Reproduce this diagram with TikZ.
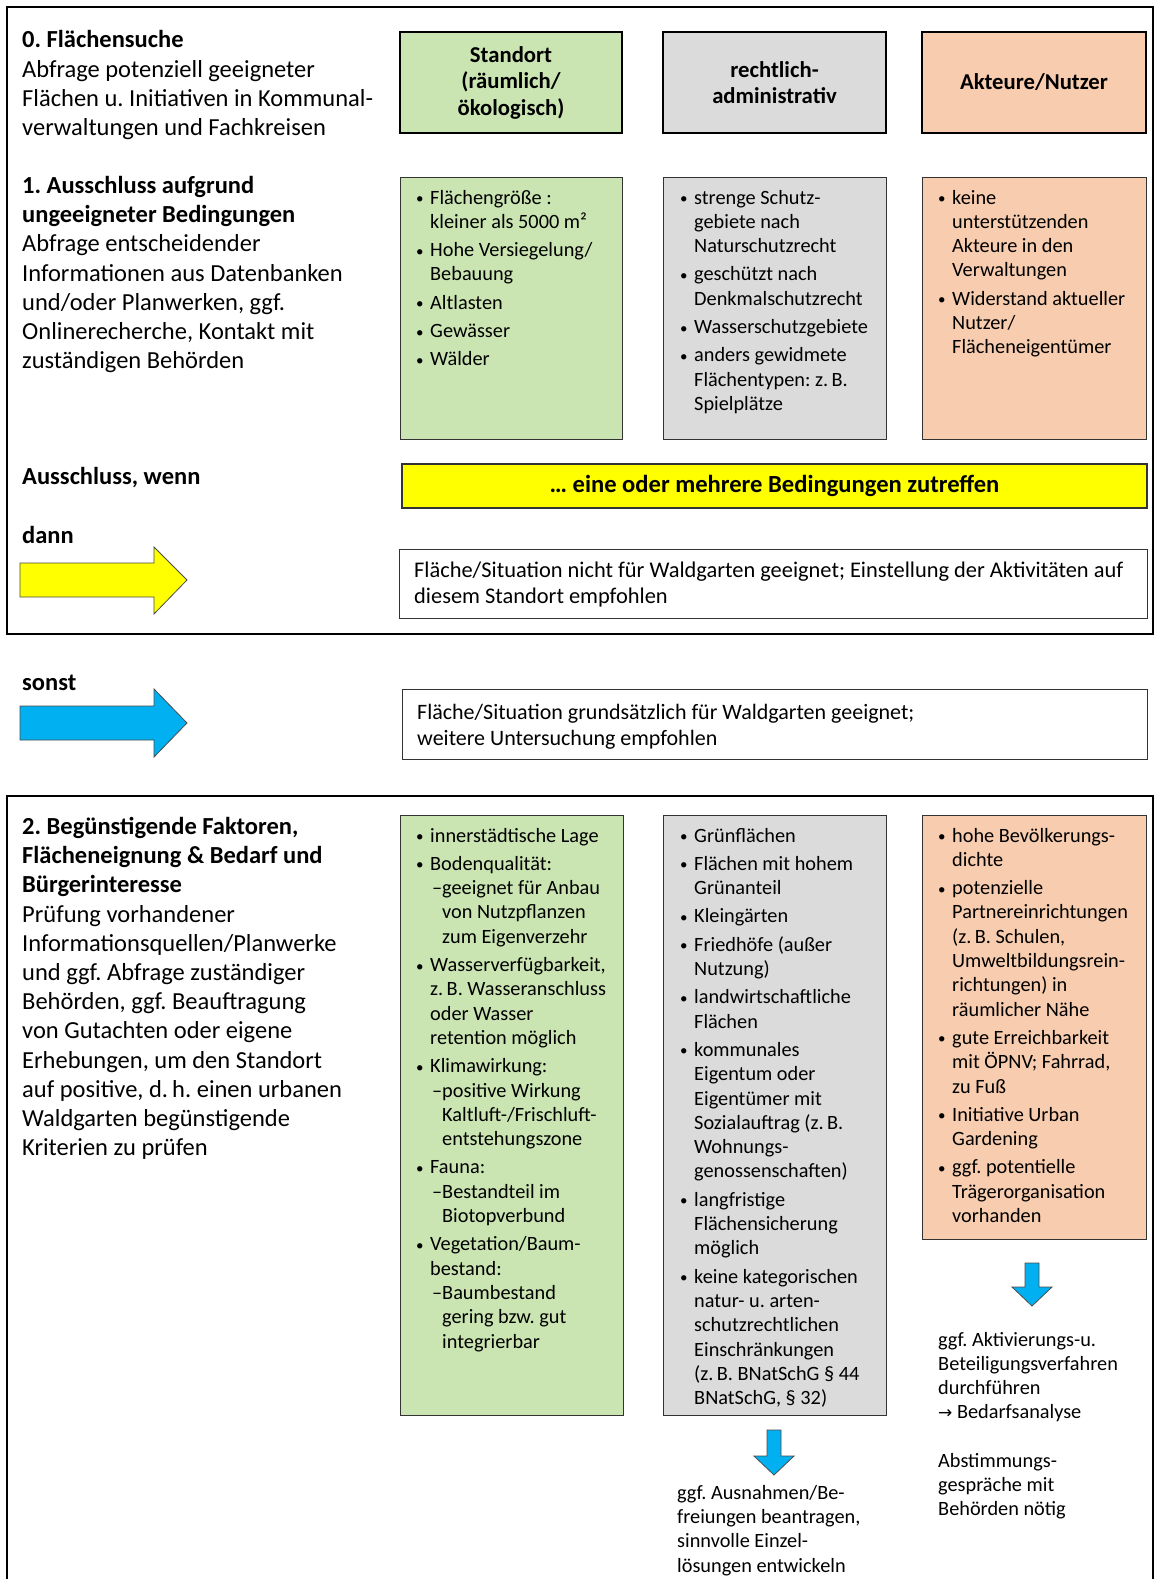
\documentclass[tikz,border=0pt]{standalone}
\usepackage{fontspec}
\setmainfont{Carlito}
\newfontfamily\dejavu{DejaVu Sans}
\frenchspacing
\definecolor{gfill}{RGB}{202,229,178}
\definecolor{grfill}{RGB}{219,219,219}
\definecolor{ofill}{RGB}{248,204,174}
\definecolor{yfill}{RGB}{255,255,0}
\definecolor{bfill}{RGB}{0,176,240}
\newcommand\bul{\makebox[14pt][l]{\raisebox{0.5pt}{\fontsize{15}{15}\selectfont •}}}
\newcommand\bfirst[1]{\noindent\hangindent=14pt\hangafter=1 \bul#1\par}
\newcommand\bnext[1]{\vspace{4pt}\bfirst{#1}}
\newcommand\bsub[1]{\noindent\hangindent=26pt\hangafter=1 \hspace*{16pt}\makebox[10pt][l]{–}#1\par}
\newcommand\boxtext{\fontsize{20.3}{24.3}\selectfont\parindent=0pt\frenchspacing}
\newcommand\lefttext{\fontsize{24.5}{29.2}\selectfont\raggedright\frenchspacing}
\begin{document}
\begin{tikzpicture}[x=1pt,y=-1pt,
  frame/.style={draw=black,line width=1.6pt},
  hdr/.style={draw=black,line width=1.5pt,anchor=center,align=center,inner sep=0pt,font=\bfseries\fontsize{22.7}{26.5}\selectfont},
  cbox/.style={draw=black!80,line width=1.3pt,anchor=north west,inner sep=0pt},
  txt/.style={anchor=base west,inner sep=0pt},
  lbl/.style={anchor=base west,inner sep=0pt,font=\bfseries\fontsize{24.5}{29.2}\selectfont},
  blockarrow/.style={draw=black!70,line width=0.8pt}]
\useasboundingbox (0,0) rectangle (1156,1579);
\fill[white] (0,0) rectangle (1156,1579);
% frames
\draw[frame] (7,7) rectangle (1153,634);
\draw[frame] (1153,1590) -- (1153,796) -- (7,796) -- (7,1590);

% left texts
\node[txt] (t0) at (22,48) {\begin{minipage}[t]{370pt}\lefttext
\textbf{0. Flächensuche}\\
Abfrage potenziell geeigneter\\
Flächen u. Initiativen in Kommunal-\\
verwaltungen und Fachkreisen\end{minipage}};
\node[txt] (t1) at (22,193.5) {\begin{minipage}[t]{370pt}\lefttext
\textbf{1. Ausschluss aufgrund}\\
\textbf{ungeeigneter Bedingungen}\\
Abfrage entscheidender\\
Informationen aus Datenbanken\\
und/oder Planwerken, ggf.\\
Onlinerecherche, Kontakt mit\\
zuständigen Behörden\end{minipage}};
\node[lbl] (tw) at (22,484.5) {Ausschluss, wenn};
\node[lbl] (td) at (22,543.5) {dann};
\node[lbl] (ts) at (22,690.5) {sonst};
\node[txt] (t2) at (22,834.5) {\begin{minipage}[t]{370pt}\lefttext
\textbf{2. Begünstigende Faktoren,}\\
\textbf{Flächeneignung \& Bedarf und}\\
\textbf{Bürgerinteresse}\\
Prüfung vorhandener\\
Informationsquellen/Planwerke\\
und ggf. Abfrage zuständiger\\
Behörden, ggf. Beauftragung\\
von Gutachten oder eigene\\
Erhebungen, um den Standort\\
auf positive, d.\,h. einen urbanen\\
Waldgarten begünstigende\\
Kriterien zu prüfen\end{minipage}};

% headers
\node[hdr,fill=gfill,minimum width=222pt,minimum height=101pt] (h1) at (511,82.5) {Standort\\(räumlich/\\ökologisch)};
\node[hdr,fill=grfill,minimum width=223pt,minimum height=101pt] (h2) at (774.5,82.5) {rechtlich-\\administrativ};
\node[hdr,fill=ofill,minimum width=224pt,minimum height=101pt] (h3) at (1034,82.5) {Akteure/Nutzer};

% row 1 boxes
\node[cbox,fill=gfill,minimum width=222pt,minimum height=262pt] (b1) at (400,177) {};
\node[cbox,fill=grfill,minimum width=223pt,minimum height=262pt] (b2) at (663,177) {};
\node[cbox,fill=ofill,minimum width=224pt,minimum height=262pt] (b3) at (922,177) {};
\node[txt] (b1t) at (416,204) {\begin{minipage}[t]{300pt}\boxtext
\bfirst{Flächengröße :\\kleiner als 5000 m²}
\bnext{Hohe Versiegelung/\\Bebauung}
\bnext{Altlasten}
\bnext{Gewässer}
\bnext{Wälder}\end{minipage}};
\node[txt] (b2t) at (680,204) {\begin{minipage}[t]{300pt}\boxtext
\bfirst{strenge Schutz-\\gebiete nach\\Naturschutzrecht}
\bnext{geschützt nach\\Denkmalschutzrecht}
\bnext{Wasserschutzgebiete}
\bnext{anders gewidmete\\Flächentypen: z.\,B.\\Spielplätze}\end{minipage}};
\node[txt] (b3t) at (938,204) {\begin{minipage}[t]{300pt}\boxtext
\bfirst{keine\\unterstützenden\\Akteure in den\\Verwaltungen}
\bnext{Widerstand aktueller\\Nutzer/\\Flächeneigentümer}\end{minipage}};

% yellow bar
\node[draw=black!80,line width=1.3pt,fill=yfill,minimum width=745pt,minimum height=44pt,inner sep=0pt,font=\bfseries\fontsize{24.6}{26}\selectfont] (yb) at (774.5,486) {… eine oder mehrere Bedingungen zutreffen};

% result boxes
\node[cbox,minimum width=748pt,minimum height=69pt] (d1) at (399,549) {};
\node[txt] (d1t) at (414,577.5) {\begin{minipage}[t]{740pt}\fontsize{22.4}{26}\selectfont\raggedright
Fläche/Situation nicht für Waldgarten geeignet; Einstellung der Aktivitäten auf\\
diesem Standort empfohlen\end{minipage}};
\node[cbox,minimum width=745pt,minimum height=70pt] (s1) at (402,689) {};
\node[txt] (s1t) at (417,719) {\begin{minipage}[t]{720pt}\fontsize{22}{26}\selectfont\raggedright
Fläche/Situation grundsätzlich für Waldgarten geeignet;\\
weitere Untersuchung empfohlen\end{minipage}};

% block arrows left
\draw[blockarrow,fill=yfill] (20,563) -- (154,563) -- (154,547) -- (187,580) -- (154,614) -- (154,597) -- (20,597) -- cycle;
\draw[blockarrow,fill=bfill] (20,706) -- (154,706) -- (154,689) -- (187,723) -- (154,757) -- (154,740) -- (20,740) -- cycle;

% row 2 boxes
\node[cbox,fill=gfill,minimum width=223pt,minimum height=600pt] (c1) at (400,815) {};
\node[cbox,fill=grfill,minimum width=223pt,minimum height=600pt] (c2) at (663,815) {};
\node[cbox,fill=ofill,minimum width=224pt,minimum height=424pt] (c3) at (922,815) {};
\node[txt] (c1t) at (416,842) {\begin{minipage}[t]{300pt}\boxtext
\bfirst{innerstädtische Lage}
\bnext{Bodenqualität:}
\bsub{geeignet für Anbau\\von Nutzpflanzen\\zum Eigenverzehr}
\bnext{Wasserverfügbarkeit,\\z.\,B. Wasseranschluss\\oder Wasser\\retention möglich}
\bnext{Klimawirkung:}
\bsub{positive Wirkung\\Kaltluft-/Frischluft-\\entstehungszone}
\bnext{Fauna:}
\bsub{Bestandteil im\\Biotopverbund}
\bnext{Vegetation/Baum-\\bestand:}
\bsub{Baumbestand\\gering bzw. gut\\integrierbar}\end{minipage}};
\node[txt] (c2t) at (680,842) {\begin{minipage}[t]{300pt}\boxtext
\bfirst{Grünflächen}
\bnext{Flächen mit hohem\\Grünanteil}
\bnext{Kleingärten}
\bnext{Friedhöfe (außer\\Nutzung)}
\bnext{landwirtschaftliche\\Flächen}
\bnext{kommunales\\Eigentum oder\\Eigentümer mit\\Sozialauftrag (z.\,B.\\Wohnungs-\\genossenschaften)}
\bnext{langfristige\\Flächensicherung\\möglich}
\bnext{keine kategorischen\\natur- u. arten-\\schutzrechtlichen\\Einschränkungen\\(z.\,B. BNatSchG § 44\\BNatSchG, § 32)}\end{minipage}};
\node[txt] (c3t) at (938,842) {\begin{minipage}[t]{300pt}\boxtext
\bfirst{hohe Bevölkerungs-\\dichte}
\bnext{potenzielle\\Partnereinrichtungen\\(z.\,B. Schulen,\\Umweltbildungsrein-\\richtungen) in\\räumlicher Nähe}
\bnext{gute Erreichbarkeit\\mit ÖPNV; Fahrrad,\\zu Fuß}
\bnext{Initiative Urban\\Gardening}
\bnext{ggf. potentielle\\Trägerorganisation\\vorhanden}\end{minipage}};

% down arrows
\draw[blockarrow,fill=bfill] (767,1430) -- (781,1430) -- (781,1456) -- (794,1456) -- (774,1475) -- (754,1456) -- (767,1456) -- cycle;
\draw[blockarrow,fill=bfill] (1025,1263) -- (1039,1263) -- (1039,1287) -- (1052,1287) -- (1032,1306) -- (1012,1287) -- (1025,1287) -- cycle;

\node[txt] (e2) at (677,1499) {\begin{minipage}[t]{240pt}\fontsize{20.3}{24.4}\selectfont\raggedright
ggf. Ausnahmen/Be-\\
freiungen beantragen,\\
sinnvolle Einzel-\\
lösungen entwickeln\end{minipage}};
\node[txt] (e3) at (938,1346) {\begin{minipage}[t]{215pt}\fontsize{20.3}{24.2}\selectfont\raggedright
ggf. Aktivierungs-u.\\
Beteiligungsverfahren\\
durchführen\\
{\dejavu\fontsize{17}{24.2}\selectfont →} Bedarfsanalyse\\[24.2pt]
Abstimmungs-\\
gespräche mit\\
Behörden nötig\end{minipage}};
\end{tikzpicture}
\end{document}
